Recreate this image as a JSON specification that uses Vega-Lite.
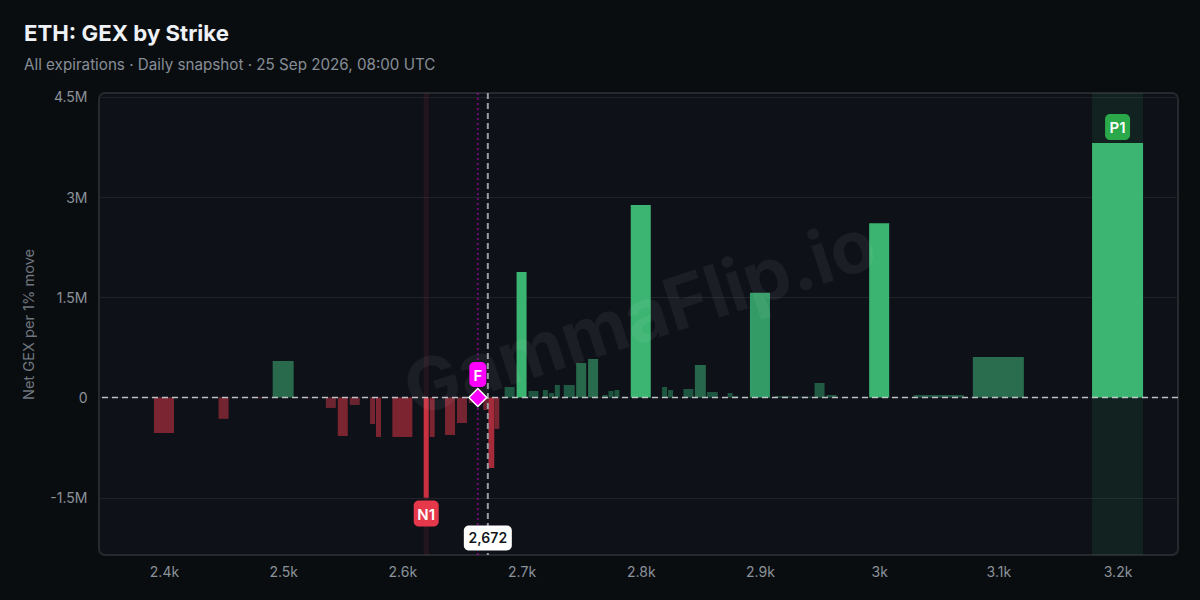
{
  "$schema": "https://vega.github.io/schema/vega-lite/v6.json",
  "width": 1079,
  "height": 462,
  "autosize": "none",
  "padding": {"left": 99, "top": 93, "right": 22, "bottom": 45},
  "background": "#0a0d10",
  "title": {
    "text": "ETH: GEX by Strike",
    "subtitle": "All expirations · Daily snapshot · 25 Sep 2026, 08:00 UTC",
    "anchor": "start",
    "frame": "group",
    "dx": -75,
    "offset": 18,
    "font": "Inter",
    "fontSize": 22.2,
    "fontWeight": 700,
    "color": "#eef1f5",
    "subtitleFont": "Inter",
    "subtitleFontSize": 15.2,
    "subtitleColor": "#868d96",
    "subtitlePadding": 12
  },
  "config": {
    "font": "Inter",
    "view": {"fill": "#0e1118", "stroke": "#26292e", "strokeWidth": 2, "cornerRadius": 6},
    "axis": {"labelFont": "Inter", "titleFont": "Inter"}
  },
  "datasets": {
    "bars": [
      {"strike": 2400, "low": 2391.6, "high": 2408.4, "gex": -531000},
      {"strike": 2450, "low": 2445.8, "high": 2454.2, "gex": -320000},
      {"strike": 2480, "low": 2477.9, "high": 2482.1, "gex": -12000},
      {"strike": 2500, "low": 2491.2, "high": 2508.8, "gex": 546000},
      {"strike": 2520, "low": 2517.9, "high": 2522.1, "gex": -12000},
      {"strike": 2540, "low": 2535.8, "high": 2544.2, "gex": -157000},
      {"strike": 2550, "low": 2545.8, "high": 2554.2, "gex": -576000},
      {"strike": 2560, "low": 2555.8, "high": 2564.2, "gex": -112000},
      {"strike": 2575, "low": 2572.9, "high": 2577.1, "gex": -397000},
      {"strike": 2580, "low": 2577.9, "high": 2582.1, "gex": -591000},
      {"strike": 2600, "low": 2591.6, "high": 2608.4, "gex": -591000},
      {"strike": 2620, "low": 2617.9, "high": 2622.1, "gex": -1500000},
      {"strike": 2625, "low": 2622.9, "high": 2627.1, "gex": -591000},
      {"strike": 2640, "low": 2635.8, "high": 2644.2, "gex": -561000},
      {"strike": 2650, "low": 2645.8, "high": 2654.2, "gex": -382000},
      {"strike": 2660, "low": 2655.8, "high": 2664.2, "gex": -80000},
      {"strike": 2670, "low": 2667.9, "high": 2672.1, "gex": -187000},
      {"strike": 2675, "low": 2672.1, "high": 2677.1, "gex": -1055000},
      {"strike": 2680, "low": 2677.1, "high": 2681.3, "gex": -470000},
      {"strike": 2690, "low": 2685.8, "high": 2694.2, "gex": 157000},
      {"strike": 2700, "low": 2695.8, "high": 2704.2, "gex": 1878000},
      {"strike": 2710, "low": 2705.8, "high": 2714.2, "gex": 97000},
      {"strike": 2720, "low": 2717.9, "high": 2722.1, "gex": 112000},
      {"strike": 2725, "low": 2722.9, "high": 2727.1, "gex": 67000},
      {"strike": 2730, "low": 2727.9, "high": 2732.1, "gex": 187000},
      {"strike": 2740, "low": 2735.4, "high": 2744.6, "gex": 187000},
      {"strike": 2750, "low": 2745.8, "high": 2754.2, "gex": 516000},
      {"strike": 2760, "low": 2755.8, "high": 2764.2, "gex": 576000},
      {"strike": 2770, "low": 2767.9, "high": 2772.1, "gex": 37000},
      {"strike": 2775, "low": 2772.9, "high": 2777.1, "gex": 97000},
      {"strike": 2780, "low": 2777.9, "high": 2782.1, "gex": 112000},
      {"strike": 2800, "low": 2791.6, "high": 2808.4, "gex": 2880000},
      {"strike": 2820, "low": 2817.9, "high": 2822.1, "gex": 157000},
      {"strike": 2825, "low": 2822.9, "high": 2827.1, "gex": 112000},
      {"strike": 2840, "low": 2835.8, "high": 2844.2, "gex": 127000},
      {"strike": 2850, "low": 2845.4, "high": 2854.6, "gex": 486000},
      {"strike": 2860, "low": 2855.4, "high": 2864.6, "gex": 82000},
      {"strike": 2875, "low": 2872.9, "high": 2877.1, "gex": 67000},
      {"strike": 2880, "low": 2877.1, "high": 2882.1, "gex": 20000},
      {"strike": 2900, "low": 2891.6, "high": 2908.4, "gex": 1567000},
      {"strike": 2920, "low": 2912.5, "high": 2925, "gex": 20000},
      {"strike": 2930, "low": 2925, "high": 2937, "gex": 12000},
      {"strike": 2940, "low": 2935.8, "high": 2944.2, "gex": 12000},
      {"strike": 2950, "low": 2945.8, "high": 2954.2, "gex": 217000},
      {"strike": 2960, "low": 2955.8, "high": 2964.2, "gex": 37000},
      {"strike": 3000, "low": 2991.6, "high": 3008.4, "gex": 2610000},
      {"strike": 3050, "low": 3029, "high": 3071, "gex": 37000},
      {"strike": 3100, "low": 3078.6, "high": 3121.4, "gex": 606000},
      {"strike": 3200, "low": 3178.6, "high": 3221.4, "gex": 3810000}
    ],
    "bands": [
      {"level": "N1", "low": 2617.9, "high": 2622.1, "kind": "neg"},
      {"level": "P1", "low": 3178.6, "high": 3221.4, "kind": "pos"}
    ],
    "badges": [
      {"label": "N1", "strike": 2620, "gex": -1737000, "kind": "neg"},
      {"label": "P1", "strike": 3200, "gex": 4050000, "kind": "pos"}
    ]
  },
  "layer": [
    {
      "data": {"name": "bands"},
      "mark": {"type": "rect", "opacity": 0.1},
      "encoding": {
        "x": {
          "field": "low",
          "type": "quantitative",
          "scale": {"domain": [2345.5, 3250.7], "nice": false, "zero": false},
          "axis": {
            "values": [2400, 2500, 2600, 2700, 2800, 2900, 3000, 3100, 3200],
            "labelExpr": "datum.value / 1000 + 'k'",
            "title": null,
            "grid": false,
            "domain": false,
            "ticks": false,
            "labelFontSize": 14,
            "labelColor": "#8b929a",
            "labelPadding": 10
          }
        },
        "x2": {"field": "high"},
        "color": {
          "field": "kind",
          "type": "nominal",
          "scale": {"domain": ["neg", "pos"], "range": ["#e5384a", "#3dba72"]},
          "legend": null
        }
      }
    },
    {
      "data": {"name": "bars"},
      "mark": {"type": "bar"},
      "encoding": {
        "x": {"field": "low", "type": "quantitative"},
        "x2": {"field": "high"},
        "y": {
          "field": "gex",
          "type": "quantitative",
          "scale": {"domain": [-2358000, 4558000], "nice": false},
          "axis": {
            "values": [-1500000, 0, 1500000, 3000000, 4500000],
            "labelExpr": "datum.value === 0 ? '0' : replace(format(datum.value, '.2~s'), '−', '-')",
            "title": "Net GEX per 1% move",
            "titleColor": "#6f767e",
            "titleFontSize": 14.6,
            "titleFontWeight": 400,
            "titlePadding": 13,
            "grid": true,
            "gridColor": "#1f2226",
            "gridWidth": 1,
            "domain": false,
            "ticks": false,
            "labelFontSize": 14,
            "labelColor": "#8b929a",
            "labelPadding": 12,
            "labelOffset": 1
          }
        },
        "y2": {"datum": 0},
        "color": {
          "field": "gex",
          "type": "quantitative",
          "legend": null,
          "scale": {
            "domain": [-1500000, -1055000, -600000, -100000, -1, 1, 100000, 600000, 1567000, 1878000, 3810000],
            "range": ["#c93040", "#a52b3b", "#7c2531", "#6a2430", "#6a2430", "#1e5540", "#1e5540", "#2a6d4e", "#339b65", "#3bb371", "#3db572"]
          }
        }
      }
    },
    {
      "data": {"values": [{"strike": 2800, "gex": 1160000, "text": "GammaFlip.io"}]},
      "mark": {"type": "text", "font": "Inter", "fontSize": 73, "fontWeight": 700, "angle": 342, "color": "#ffffff", "opacity": 0.05},
      "encoding": {
        "x": {"field": "strike", "type": "quantitative"},
        "y": {"field": "gex", "type": "quantitative"},
        "text": {"field": "text"}
      }
    },
    {
      "data": {"values": [{"gex": 0}]},
      "mark": {"type": "rule", "color": "#cfd2d6", "opacity": 0.9, "strokeWidth": 1.5, "strokeDash": [6, 4]},
      "encoding": {"y": {"field": "gex", "type": "quantitative"}}
    },
    {
      "data": {"values": [{"strike": 2663.3}]},
      "mark": {"type": "rule", "color": "#ff00ff", "opacity": 0.4, "strokeWidth": 2, "strokeDash": [2, 3]},
      "encoding": {"x": {"field": "strike", "type": "quantitative"}}
    },
    {
      "data": {"values": [{"strike": 2671.7}]},
      "mark": {"type": "rule", "color": "#9a9ea4", "strokeWidth": 2, "strokeDash": [6, 4]},
      "encoding": {"x": {"field": "strike", "type": "quantitative"}}
    },
    {
      "data": {"values": [{"strike": 2663.3, "gex": 344000}]},
      "mark": {"type": "rect", "width": 17, "height": 25, "cornerRadius": 5, "color": "#ff00ff"},
      "encoding": {
        "x": {"field": "strike", "type": "quantitative"},
        "y": {"field": "gex", "type": "quantitative"}
      }
    },
    {
      "data": {"values": [{"strike": 2663.3, "gex": 344000, "label": "F"}]},
      "mark": {"type": "text", "font": "Inter", "fontSize": 15, "fontWeight": 600, "color": "#ffffff", "dy": 1},
      "encoding": {
        "x": {"field": "strike", "type": "quantitative"},
        "y": {"field": "gex", "type": "quantitative"},
        "text": {"field": "label"}
      }
    },
    {
      "data": {"values": [{"strike": 2663.3, "gex": 0}]},
      "mark": {"type": "point", "shape": "diamond", "size": 320, "filled": true, "fill": "#ff00ff", "stroke": "#ffffff", "strokeWidth": 1.5, "opacity": 1},
      "encoding": {
        "x": {"field": "strike", "type": "quantitative"},
        "y": {"field": "gex", "type": "quantitative"}
      }
    },
    {
      "data": {"name": "badges"},
      "mark": {"type": "rect", "width": 25, "height": 26, "cornerRadius": 5},
      "encoding": {
        "x": {"field": "strike", "type": "quantitative"},
        "y": {"field": "gex", "type": "quantitative"},
        "color": {
          "field": "kind",
          "type": "nominal",
          "scale": {"domain": ["neg", "pos"], "range": ["#e5384a", "#2aa84a"]},
          "legend": null
        }
      }
    },
    {
      "data": {"name": "badges"},
      "mark": {"type": "text", "font": "Inter", "fontSize": 15, "fontWeight": 600, "color": "#ffffff", "dy": 1},
      "encoding": {
        "x": {"field": "strike", "type": "quantitative"},
        "y": {"field": "gex", "type": "quantitative"},
        "text": {"field": "label"}
      }
    },
    {
      "data": {"values": [{"strike": 2671.7, "gex": -2103000}]},
      "mark": {"type": "rect", "width": 48, "height": 25, "cornerRadius": 5, "color": "#ffffff"},
      "encoding": {
        "x": {"field": "strike", "type": "quantitative"},
        "y": {"field": "gex", "type": "quantitative"}
      }
    },
    {
      "data": {"values": [{"strike": 2671.7, "gex": -2103000, "label": "2,672"}]},
      "mark": {"type": "text", "font": "Inter", "fontSize": 14, "fontWeight": 600, "color": "#14171c", "dy": 1},
      "encoding": {
        "x": {"field": "strike", "type": "quantitative"},
        "y": {"field": "gex", "type": "quantitative"},
        "text": {"field": "label"}
      }
    }
  ],
  "resolve": {"scale": {"color": "independent"}}
}
